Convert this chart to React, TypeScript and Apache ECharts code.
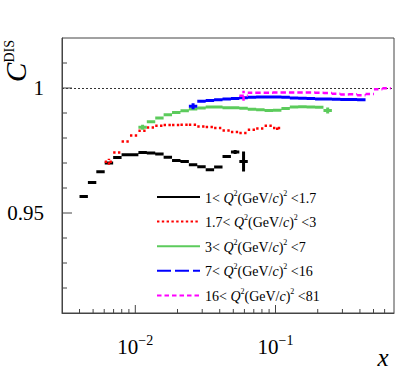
import React, { useEffect, useRef } from 'react';
import * as echarts from 'echarts';

// Bin edges in x (log-spaced bins)
const xEdges = [
  0.004, 0.00459, 0.00527, 0.00605, 0.00695, 0.00798, 0.00916, 0.01052, 0.01208, 0.01387,
  0.01592, 0.01828, 0.02099, 0.0241, 0.02767, 0.03177, 0.03648, 0.04188, 0.04809, 0.05521,
  0.0634, 0.07279, 0.08357, 0.09595, 0.1102, 0.1265, 0.1452, 0.1667, 0.1915, 0.2198,
  0.2524, 0.2898, 0.3327, 0.382, 0.4386, 0.5036, 0.5782, 0.6638,
];

const qLow = ['1', '1.7', '3', '7', '16'];
const qHigh = ['1.7', '3', '7', '16', '81'];
const seriesNames = ['Q1', 'Q2', 'Q3', 'Q4', 'Q5'];

// Q2 bin 1 (black)
const blackFirstBin = 0;
const blackY = [0.9566, 0.9622, 0.9665, 0.97, 0.9722, 0.9733, 0.9733, 0.9742, 0.974, 0.9736,
  0.9723, 0.971, 0.9706, 0.9693, 0.9685, 0.9673, 0.9684, 0.9726, 0.9744, 0.9706];
const blackErr = [0, 0, 0, 0, 0, 0, 0, 0, 0, 0, 0, 0, 0, 0, 0, 0, 0, 0, 0.0008, 0.004];

// Q2 bin 2 (red)
const redFirstBin = 3;
const redY = [0.9705, 0.9742, 0.9786, 0.981, 0.9829, 0.9842, 0.9849, 0.9852, 0.9852, 0.9853,
  0.9853, 0.9846, 0.9844, 0.984, 0.983, 0.9824, 0.982, 0.9833, 0.9838, 0.9849, 0.984];
const redErr = [0.0012, 0, 0, 0, 0, 0, 0, 0, 0, 0, 0, 0, 0, 0, 0, 0, 0, 0, 0, 0, 0.0008];

// Q2 bin 3 (green)
const greenFirstBin = 7;
const greenY = [0.9843, 0.9865, 0.988, 0.9893, 0.9902, 0.9909, 0.9916, 0.992, 0.9924, 0.9924,
  0.9921, 0.9921, 0.9919, 0.9915, 0.9913, 0.991, 0.9911, 0.9918, 0.9924, 0.9925, 0.9924, 0.9923, 0.991];
const greenErr = [0.001, 0, 0, 0, 0, 0, 0, 0, 0, 0, 0, 0, 0, 0, 0, 0, 0, 0, 0, 0, 0, 0, 0.0012];

// Q2 bin 4 (blue)
const blueFirstBin = 13;
const blueY = [0.9927, 0.9947, 0.995, 0.9953, 0.9956, 0.9958, 0.9961, 0.9963, 0.9964, 0.9964,
  0.9964, 0.9963, 0.996, 0.9959, 0.9958, 0.9956, 0.9956, 0.9955, 0.9954, 0.9954, 0.9953];
const blueErr = [0.0012, 0, 0, 0, 0, 0, 0, 0, 0, 0, 0, 0, 0, 0, 0, 0, 0, 0, 0, 0, 0];

// Q2 bin 5 (magenta)
const magentaFirstBin = 19;
const magentaY = [0.9969, 0.9981, 0.9981, 0.9981, 0.9982, 0.9982, 0.9982, 0.9982, 0.9982, 0.9981,
  0.998, 0.9977, 0.9974, 0.9975, 0.9971, 0.9976, 0.9995, 0.9999];
const magentaErr = [0.002, 0, 0, 0, 0, 0, 0, 0, 0, 0, 0, 0, 0, 0, 0, 0, 0, 0];

const xMajorTicks = [0.01, 0.1];
const xMinorTicks = [0.004, 0.005, 0.006, 0.007, 0.008, 0.009, 0.02, 0.03, 0.04, 0.05, 0.06, 0.07,
  0.08, 0.09, 0.2, 0.3, 0.4, 0.5, 0.6];
const yMajorTicks = [0.95, 1.0];
const yMinorTicks = [0.92, 0.93, 0.94, 0.96, 0.97, 0.98, 0.99, 1.01];

const X_MIN = 0.003;
const X_MAX = 0.7;
const Y_MIN = 0.91;
const Y_MAX = 1.02;

const F = 'Liberation Serif';

function buildLine(first: number, ys: number[], errs: number[]) {
  const out: any[] = [];
  ys.forEach((y, i) => {
    const lo = xEdges[first + i];
    const hi = xEdges[first + i + 1];
    out.push([lo, y], [hi, y], ['-', '-']);
    if (errs[i] > 0) {
      const mid = Math.sqrt(lo * hi);
      out.push([mid, y - errs[i]], [mid, y + errs[i]], ['-', '-']);
    }
  });
  return out;
}

export default function App() {
  const ref = useRef<HTMLDivElement>(null);
  useEffect(() => {
    document.body.style.margin = '0';
    const chart = echarts.init(ref.current!, null, { renderer: 'svg' });
    const styles = [
      { color: '#000000', width: 3, type: 'solid' as any },
      { color: '#ff0000', width: 2.5, type: [2.4, 2.4] },
      { color: '#5ccb5c', width: 3, type: 'solid' as any },
      { color: '#0000ff', width: 3, type: [14, 4] },
      { color: '#ff00ff', width: 2.5, type: [4.5, 3] },
    ];
    const datasets = [
      buildLine(blackFirstBin, blackY, blackErr),
      buildLine(redFirstBin, redY, redErr),
      buildLine(greenFirstBin, greenY, greenErr),
      buildLine(blueFirstBin, blueY, blueErr),
      buildLine(magentaFirstBin, magentaY, magentaErr),
    ];
    const lineSeries = seriesNames.map((name, i) => ({
      name,
      type: 'line',
      data: datasets[i],
      showSymbol: false,
      symbol: 'none',
      connectNulls: false,
      lineStyle: { color: styles[i].color, width: styles[i].width, type: styles[i].type },
      itemStyle: { color: styles[i].color },
      z: 3 + i,
    }));

    const xTickData = [
      ...xMajorTicks.map((v) => [v, Y_MIN, 8]),
      ...xMinorTicks.map((v) => [v, Y_MIN, 4]),
    ];
    const yTickData = [
      ...yMajorTicks.map((v) => [X_MIN, v, 10]),
      ...yMinorTicks.map((v) => [X_MIN, v, 5]),
    ];

    const legendText: Record<string, string> = {};
    seriesNames.forEach((n, i) => {
      legendText[n] = `{n|${qLow[i]}< }{q|Q}{s|2}{n|(GeV/}{q|c}{n|)}{s|2}{n| <${qHigh[i]}}`;
    });

    chart.setOption({
      animation: false,
      grid: {
        left: 62, top: 38, right: 21, bottom: 69,
        show: true, borderColor: '#444', borderWidth: 1, backgroundColor: 'transparent',
      },
      xAxis: {
        type: 'log', logBase: 10, min: X_MIN, max: X_MAX,
        axisLine: { show: true, lineStyle: { color: '#444', width: 1 } },
        axisTick: { show: false },
        minorTick: { show: false },
        splitLine: { show: false },
        axisLabel: {
          margin: 20,
          showMinLabel: false,
          showMaxLabel: false,
          fontFamily: F,
          formatter: (v: number) => {
            const l = Math.log10(v);
            const r = Math.round(l);
            if (Math.abs(l - r) < 1e-6 && r >= -2 && r <= -1) return `{b|10}{e|\u2212${-r}}`;
            return '';
          },
          rich: {
            b: { fontFamily: F, fontSize: 21, color: '#000', lineHeight: 24, verticalAlign: 'bottom' },
            e: { fontFamily: F, fontSize: 14, color: '#000', lineHeight: 14, verticalAlign: 'top' },
          },
        },
      },
      yAxis: {
        type: 'value', min: Y_MIN, max: Y_MAX, interval: 0.01,
        axisLine: { show: true, lineStyle: { color: '#444', width: 1 } },
        axisTick: { show: false },
        splitLine: { show: false },
        axisLabel: {
          margin: 18,
          fontFamily: F, fontSize: 21, color: '#000',
          formatter: (v: number) => {
            if (Math.abs(v - 1) < 1e-9) return '1';
            if (Math.abs(v - 0.95) < 1e-9) return '0.95';
            return '';
          },
        },
      },
      legend: {
        orient: 'vertical',
        left: 151,
        top: 184,
        itemWidth: 43,
        itemHeight: 14,
        itemGap: 8.6,
        data: seriesNames,
        itemStyle: { opacity: 0 },
        formatter: (name: string) => legendText[name],
        textStyle: {
          fontFamily: F,
          rich: {
            n: { fontFamily: F, fontSize: 14, color: '#000', lineHeight: 16, verticalAlign: 'bottom' },
            q: { fontFamily: F, fontSize: 14, fontStyle: 'italic', color: '#000', lineHeight: 16, verticalAlign: 'bottom' },
            s: { fontFamily: F, fontSize: 8, color: '#000', lineHeight: 9, verticalAlign: 'top' },
          },
        },
      },
      graphic: [
        {
          type: 'text',
          x: 16, y: 61,
          rotation: Math.PI / 2,
          style: {
            text: '{c|C}{s|DIS}',
            align: 'center',
            verticalAlign: 'middle',
            rich: {
              c: { fontFamily: F, fontSize: 29, fontStyle: 'italic', fill: '#000', lineHeight: 28, verticalAlign: 'bottom' },
              s: { fontFamily: F, fontSize: 14, fill: '#000', lineHeight: 17, verticalAlign: 'top' },
            },
          },
        },
        {
          type: 'text',
          x: 383, y: 357,
          style: {
            text: 'x',
            align: 'center',
            verticalAlign: 'middle',
            fontFamily: F,
            fontStyle: 'italic',
            fontSize: 25,
            fill: '#000',
          },
        },
      ],
      series: [
        ...lineSeries.map((s, i) =>
          i === 0
            ? {
                ...s,
                markLine: {
                  silent: true,
                  symbol: ['none', 'none'],
                  label: { show: false },
                  lineStyle: { color: '#333', width: 1, type: [2, 2] },
                  data: [{ yAxis: 1 }],
                  z: 1,
                },
              }
            : s
        ),
        {
          type: 'custom',
          name: 'xticks',
          data: xTickData,
          encode: { x: 0, y: 1 },
          silent: true,
          z: 10,
          renderItem: (_p: any, api: any) => {
            const p = api.coord([api.value(0), api.value(1)]);
            return {
              type: 'line',
              shape: { x1: p[0], y1: p[1], x2: p[0], y2: p[1] - api.value(2) },
              style: { stroke: '#444', lineWidth: 1 },
            };
          },
        },
        {
          type: 'custom',
          name: 'yticks',
          data: yTickData,
          encode: { x: 0, y: 1 },
          silent: true,
          z: 10,
          renderItem: (_p: any, api: any) => {
            const p = api.coord([api.value(0), api.value(1)]);
            return {
              type: 'line',
              shape: { x1: p[0], y1: p[1], x2: p[0] + api.value(2), y2: p[1] },
              style: { stroke: '#444', lineWidth: 1 },
            };
          },
        },
      ],
    });
    return () => chart.dispose();
  }, []);
  return <div ref={ref} style={{ width: 415, height: 382 }} />;
}
